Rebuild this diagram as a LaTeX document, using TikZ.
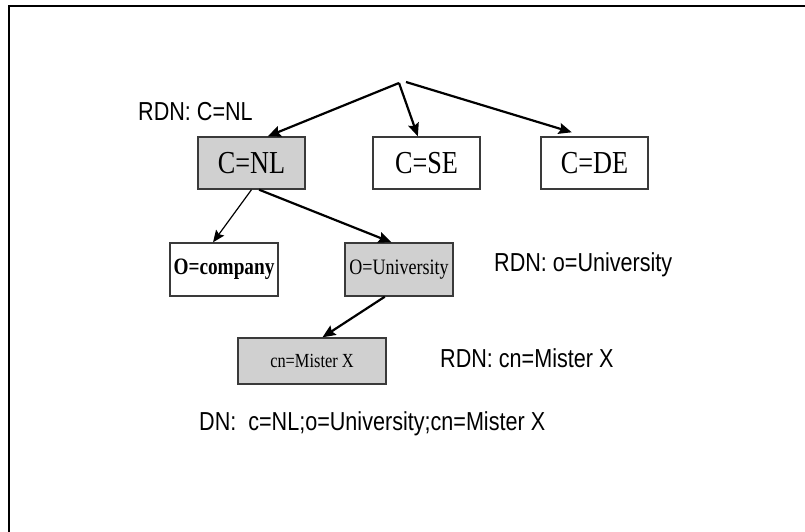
\documentclass[tikz,border=0pt]{standalone}
\usepackage{fontspec}
\usetikzlibrary{arrows.meta,calc}
\newfontfamily\labfont[FakeStretch=0.83]{Liberation Sans}
\newfontfamily\boxfont[FakeStretch=0.82]{Liberation Serif}
\definecolor{boxgray}{HTML}{D0D0D0}
\definecolor{edgegray}{HTML}{3A3A3A}
\tikzset{
  entry/.style={draw=edgegray, line width=1.4pt, rectangle, inner sep=0pt,
    minimum width=107pt, minimum height=52pt, fill=white},
  shaded/.style={entry, fill=boxgray},
  rdnlabel/.style={anchor=base west, inner sep=0pt, font=\labfont\fontsize{26}{30}\selectfont},
  thickarrow/.style={line width=2.2pt, -{Stealth[length=13pt,width=11pt,inset=2pt]}},
  thinarrow/.style={line width=1.2pt, -{Stealth[length=12pt,width=10pt,inset=2pt]}}
}
\begin{document}
\begin{tikzpicture}[x=1pt,y=-1pt]
\useasboundingbox (0,0) rectangle (805,532);
% frame
\draw[line width=2pt] (9,533) -- (9,6) -- (806,6);
% root points
\coordinate (root) at (399,83);
\coordinate (rootr) at (406,82);
% boxes
\node[shaded] (nl) at (251.5,163) {\boxfont\fontsize{32}{36}\selectfont C=NL};
\node[entry] (se) at (426.5,163) {\boxfont\fontsize{32}{36}\selectfont C=SE};
\node[entry] (de) at (594.5,163) {\boxfont\fontsize{32}{36}\selectfont C=DE};
\node[entry, minimum width=108pt, minimum height=53pt] (comp) at (224,269.5) {\boxfont\bfseries\fontsize{23.5}{26}\selectfont O=company};
\node[shaded, minimum width=108pt, minimum height=53pt] (univ) at (399,269.5) {\boxfont\fontsize{22}{25}\selectfont O=University};
\node[shaded, minimum width=148pt, minimum height=46pt] (mx) at (312,361) {\boxfont\fontsize{20}{23}\selectfont cn=Mister X};
% labels
\node[rdnlabel] (l1) at (138,121) {RDN: C=NL};
\node[rdnlabel] (l2) at (494,271.5) {RDN: o=University};
\node[rdnlabel] (l3) at (440,367.5) {RDN: cn=Mister X};
\node[rdnlabel] (l4) at (199,430.5) {DN:~~c=NL;o=University;cn=Mister X};
% arrows
\draw[thickarrow] (root) -- ($(nl.north west)!0.65!(nl.north east)$);
\draw[thickarrow] (root) -- ($(se.north west)!0.42!(se.north east)$);
\draw[thickarrow] (rootr) -- ($(de.north west)!0.29!(de.north east)+(0,-4)$);
\draw[thinarrow] ($(nl.south west)!0.5!(nl.south east)$) -- ($(comp.north west)!0.4!(comp.north east)$);
\draw[thickarrow] ($(nl.south west)!0.57!(nl.south east)$) -- ($(univ.north west)!0.43!(univ.north east)$);
\draw[thickarrow] ($(univ.south west)!0.37!(univ.south east)$) -- ($(mx.north west)!0.57!(mx.north east)$);
\end{tikzpicture}
\end{document}
